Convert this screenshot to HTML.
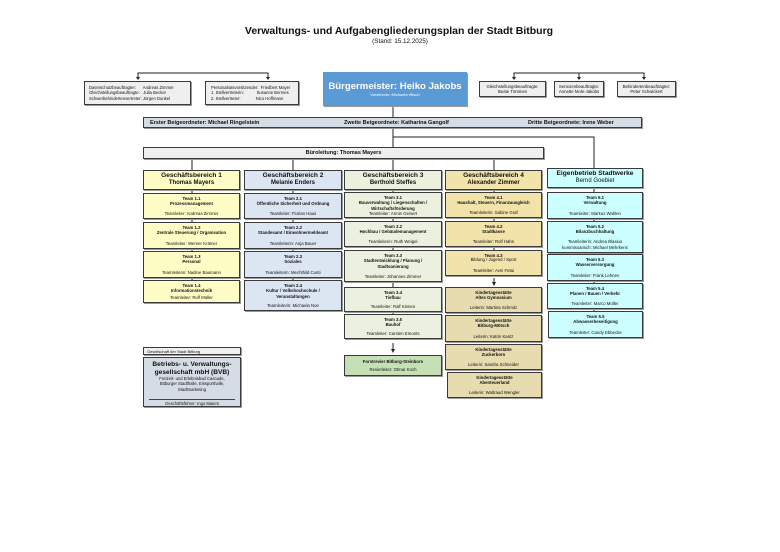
<!DOCTYPE html>
<html><head><meta charset="utf-8"><style>
body{margin:0;width:780px;height:552px;background:#fff;position:relative;font-family:"Liberation Sans",sans-serif;color:#111;overflow:hidden}
.a{position:absolute}
.b{position:absolute;box-sizing:border-box;border:1px solid #3a3a3a;display:flex;flex-direction:column;align-items:center;text-align:center;font-size:4.3px;line-height:1.25;box-shadow:1px 1px 0 #999}
.t{justify-content:space-between;padding:2px 1px 2px}
.h{justify-content:center;font-weight:bold;font-size:6.6px;line-height:1.2}
.y{background:#fffdc6}.bl{background:#dce6f2}.g{background:#ebf1de}.o{background:#f1e3a9}.k{background:#e6dcb0}.c{background:#ccffff}.gy{background:#efefef}
b{font-weight:bold}
</style></head><body>
<svg class="a" style="left:0;top:0" width="780" height="552">
<g stroke="#222" stroke-width="1" fill="none">
<polyline points="138,77 138,73 268,73 268,77"/>
<polyline points="514,77 514,73 644,73 644,77"/>
<line x1="393" y1="106" x2="393" y2="147"/>
<polyline points="393,137 594,137 594,168"/>
<line x1="192" y1="159" x2="192" y2="170"/>
<line x1="293" y1="159" x2="293" y2="170"/>
<line x1="393" y1="159" x2="393" y2="170"/>
<line x1="494" y1="159" x2="494" y2="170"/>
<line x1="192" y1="190" x2="192" y2="280"/>
<line x1="293" y1="190" x2="293" y2="280"/>
<line x1="393" y1="190" x2="393" y2="314"/>
<line x1="494" y1="190" x2="494" y2="250"/>
<line x1="594" y1="188" x2="594" y2="311"/>
<line x1="393" y1="343" x2="393" y2="350"/>
<line x1="494" y1="278" x2="494" y2="283"/>
</g>
<g fill="#222">
<polygon points="136,77 140,77 138,80"/><polygon points="266,77 270,77 268,80"/>
<polygon points="512,77 516,77 514,80"/><polygon points="577,77 581,77 579,80"/><polygon points="642,77 646,77 644,80"/>
<polygon points="391,349 395,349 393,353"/><polygon points="492,282 496,282 494,286"/>
</g>
<line x1="579" y1="73" x2="579" y2="77" stroke="#222"/>
</svg>

<div class="a" style="left:0;top:25px;width:798px;text-align:center;font-weight:bold;font-size:10.5px">Verwaltungs- und Aufgabengliederungsplan der Stadt Bitburg</div>
<div class="a" style="left:0;top:38px;width:800px;text-align:center;font-size:6.3px">(Stand: 15.12.2025)</div>

<div class="b gy" style="left:84px;top:81px;width:107px;height:24px;align-items:flex-start;justify-content:center;padding-left:4px;text-align:left;font-size:4.2px">
<div>Datenschutzbeauftragter:&nbsp;&nbsp;&nbsp;&nbsp;&nbsp; Andreas Zimmer</div><div>Gleichstellungsbeauftragte:&nbsp;&nbsp; Julia Becker</div><div>Schwerbehindertenvertreter: Jürgen Dunkel</div></div>
<div class="b gy" style="left:205px;top:81px;width:94px;height:24px;align-items:flex-start;justify-content:center;padding-left:5px;text-align:left;font-size:4.2px">
<div>Personalratsvorsitzender:&nbsp; Friedbert Mayer</div><div>1. Stellvertreterin:&nbsp;&nbsp;&nbsp;&nbsp;&nbsp;&nbsp;&nbsp;&nbsp;&nbsp;&nbsp; Susanne Bermes</div><div>2. Stellvertreter:&nbsp;&nbsp;&nbsp;&nbsp;&nbsp;&nbsp;&nbsp;&nbsp;&nbsp;&nbsp;&nbsp;&nbsp; Nico Hoffmann</div></div>

<div class="b" style="left:323px;top:72px;width:144px;height:34px;background:#5b9bd5;border-color:#5b9bd5;color:#fff;justify-content:center">
<div style="font-weight:bold;font-size:9.6px">Bürgermeister: Heiko Jakobs</div><div style="font-size:4px">Vorzimmer: Michaela Hitsch</div></div>

<div class="b gy" style="left:479px;top:81px;width:67px;height:16px;justify-content:center"><div>Gleichstellungsbeauftragte:</div><div>Beate Tömmes</div></div>
<div class="b gy" style="left:554px;top:81px;width:50px;height:16px;justify-content:center"><div>Seniorenbeauftragte:</div><div>Annette Mole-Jakobs</div></div>
<div class="b gy" style="left:617px;top:81px;width:59px;height:16px;justify-content:center"><div>Behindertenbeauftragter:</div><div>Peter Schwickert</div></div>

<div class="b" style="left:143px;top:117px;width:499px;height:11px;background:#d6dce5;flex-direction:row;font-weight:bold;font-size:5.5px">
<span class="a" style="left:6px;top:2px">Erster Beigeordneter: Michael Ringelstein</span>
<span class="a" style="left:200px;top:2px">Zweite Beigeordnete: Katharina Gangolf</span>
<span class="a" style="left:384px;top:2px">Dritte Beigeordnete: Irene Weber</span></div>

<div class="b gy" style="left:143px;top:147px;width:401px;height:12px;justify-content:center;font-weight:bold;font-size:5.5px">Büroleitung: Thomas Mayers</div>

<!-- GB headers -->
<div class="b h y" style="left:143px;top:170px;width:97px;height:20px">Geschäftsbereich 1<span style="font-size:6px">Thomas Mayers</span></div>
<div class="b h bl" style="left:244px;top:170px;width:98px;height:20px">Geschäftsbereich 2<span style="font-size:6px">Melanie Enders</span></div>
<div class="b h g" style="left:344px;top:170px;width:98px;height:20px">Geschäftsbereich 3<span style="font-size:6px">Berthold Steffes</span></div>
<div class="b h o" style="left:445px;top:170px;width:97px;height:20px">Geschäftsbereich 4<span style="font-size:6px">Alexander Zimmer</span></div>
<div class="b h c" style="left:547px;top:168px;width:96px;height:20px">Eigenbetrieb Stadtwerke<span style="font-size:6px;font-weight:normal">Bernd Goebiet</span></div>

<!-- GB1 -->
<div class="b t y" style="left:143px;top:193px;width:97px;height:26px"><b>Team 1.1<br>Prozessmanagement</b><span>Teamleiter: Andreas Zimmer</span></div>
<div class="b t y" style="left:143px;top:222px;width:97px;height:27px"><b>Team 1.2<br>Zentrale Steuerung / Organisation</b><span>Teamleiter: Werner Krämer</span></div>
<div class="b t y" style="left:143px;top:251px;width:97px;height:27px"><b>Team 1.3<br>Personal</b><span>Teamleiterin: Nadine Baumann</span></div>
<div class="b t y" style="left:143px;top:280px;width:97px;height:23px"><b>Team 1.4<br>Informationstechnik</b><span>Teamleiter: Rolf Müller</span></div>
<!-- GB2 -->
<div class="b t bl" style="left:244px;top:193px;width:98px;height:26px"><b>Team 2.1<br>Öffentliche Sicherheit und Ordnung</b><span>Teamleiter: Florian Haus</span></div>
<div class="b t bl" style="left:244px;top:222px;width:98px;height:27px"><b>Team 2.2<br>Standesamt / Einwohnermeldeamt</b><span>Teamleiterin: Anja Bauer</span></div>
<div class="b t bl" style="left:244px;top:251px;width:98px;height:27px"><b>Team 2.3<br>Soziales</b><span>Teamleiterin: Mechthild Conti</span></div>
<div class="b t bl" style="left:244px;top:280px;width:98px;height:31px"><b>Team 2.4<br>Kultur / Volkshochschule /<br>Veranstaltungen</b><span>Teamleiterin: Michaela Noe</span></div>
<!-- GB3 -->
<div class="b t g" style="left:344px;top:192px;width:98px;height:26px"><b>Team 3.1<br>Bauverwaltung / Liegenschaften /<br>Wirtschaftsförderung</b><span>Teamleiter: Armin Geisert</span></div>
<div class="b t g" style="left:344px;top:221px;width:98px;height:26px"><b>Team 3.2<br>Hochbau / Gebäudemanagement</b><span>Teamleiterin: Ruth Weigel</span></div>
<div class="b t g" style="left:344px;top:250px;width:98px;height:32px"><b>Team 3.3<br>Stadtentwicklung / Planung /<br>Stadtsanierung</b><span>Teamleiter: Johannes Zimmer</span></div>
<div class="b t g" style="left:344px;top:287px;width:98px;height:25px"><b>Team 3.4<br>Tiefbau</b><span>Teamleiter: Ralf Kinnen</span></div>
<div class="b t g" style="left:344px;top:314px;width:98px;height:25px"><b>Team 3.5<br>Bauhof</b><span>Teamleiter: Carsten Emonts</span></div>
<div class="b" style="left:344px;top:355px;width:98px;height:21px;background:#c5e0b4;justify-content:space-around;padding:1px"><b>Forstrevier Bitburg-Steinborn</b><span>Revierleiter: Otmar Koch</span></div>
<!-- GB4 -->
<div class="b t o" style="left:445px;top:192px;width:97px;height:26px"><b>Team 4.1<br>Haushalt, Steuern, Finanzausgleich</b><span>Teamleiterin: Sabine Graf</span></div>
<div class="b t o" style="left:445px;top:221px;width:97px;height:26px"><b>Team 4.2<br>Stadtkasse</b><span>Teamleiter: Rolf Hahn</span></div>
<div class="b t o" style="left:445px;top:250px;width:97px;height:26px"><b>Team 4.3</b><span style="margin-top:-6px">Bildung / Jugend / Sport</span><span>Teamleiter: Avni Fetai</span></div>
<div class="b t k" style="left:445px;top:287px;width:97px;height:26px"><b>Kindertagesstätte<br>Altes Gymnasium</b><span>Leiterin: Martina Schmitz</span></div>
<div class="b t k" style="left:445px;top:315px;width:97px;height:27px"><b>Kindertagesstätte<br>Bitburg-Mötsch</b><span>Leiterin: Katrin Kantz</span></div>
<div class="b t k" style="left:445px;top:344px;width:97px;height:26px"><b>Kindertagesstätte<br>Zuckerborn</b><span>Leiterin: Sandra Schneider</span></div>
<div class="b t k" style="left:447px;top:372px;width:95px;height:26px"><b>Kindertagesstätte<br>Abenteuerland</b><span>Leiterin: Waltraud Wengler</span></div>
<!-- EB -->
<div class="b t c" style="left:547px;top:192px;width:96px;height:27px"><b>Team 5.1<br>Verwaltung</b><span>Teamleiter: Markus Wahlen</span></div>
<div class="b t c" style="left:547px;top:221px;width:96px;height:32px"><b>Team 5.2<br>Bilanzbuchhaltung</b><span>Teamleiterin: Andrea Blasius<br>kommissarisch: Michael Mehrkens</span></div>
<div class="b t c" style="left:547px;top:254px;width:96px;height:27px"><b>Team 5.3<br>Wasserversorgung</b><span>Teamleiter: Frank Lehnen</span></div>
<div class="b t c" style="left:547px;top:283px;width:96px;height:26px"><b>Team 5.4<br>Planen / Bauen / Verkehr</b><span>Teamleiter: Marco Müller</span></div>
<div class="b t c" style="left:548px;top:311px;width:95px;height:27px"><b>Team 5.5<br>Abwasserbeseitigung</b><span>Teamleiter: Candy Ebbecke</span></div>

<!-- BVB -->
<div class="b gy" style="left:143px;top:347px;width:98px;height:8px;align-items:flex-start;justify-content:center;padding-left:3px;font-size:4px">Gesellschaft der Stadt Bitburg</div>
<div class="b" style="left:143px;top:357px;width:98px;height:50px;background:#d6dce5;justify-content:flex-start;padding-top:3px">
<div style="font-weight:bold;font-size:6.6px;line-height:1.15">Betriebs- u. Verwaltungs-<br>gesellschaft mbH (BVB)</div>
<div style="font-size:4.2px">Freizeit- und Erlebnisbad Cascade,<br>Bitburger Stadthalle, Eissporthalle,<br>Stadtmarketing</div>
<div class="a" style="left:5px;right:5px;top:41px;border-top:1px solid #444"></div>
<div class="a" style="left:0;right:0;top:43px;font-size:4.2px">Geschäftsführer: Ingo Maiers</div>
</div>
</body></html>
